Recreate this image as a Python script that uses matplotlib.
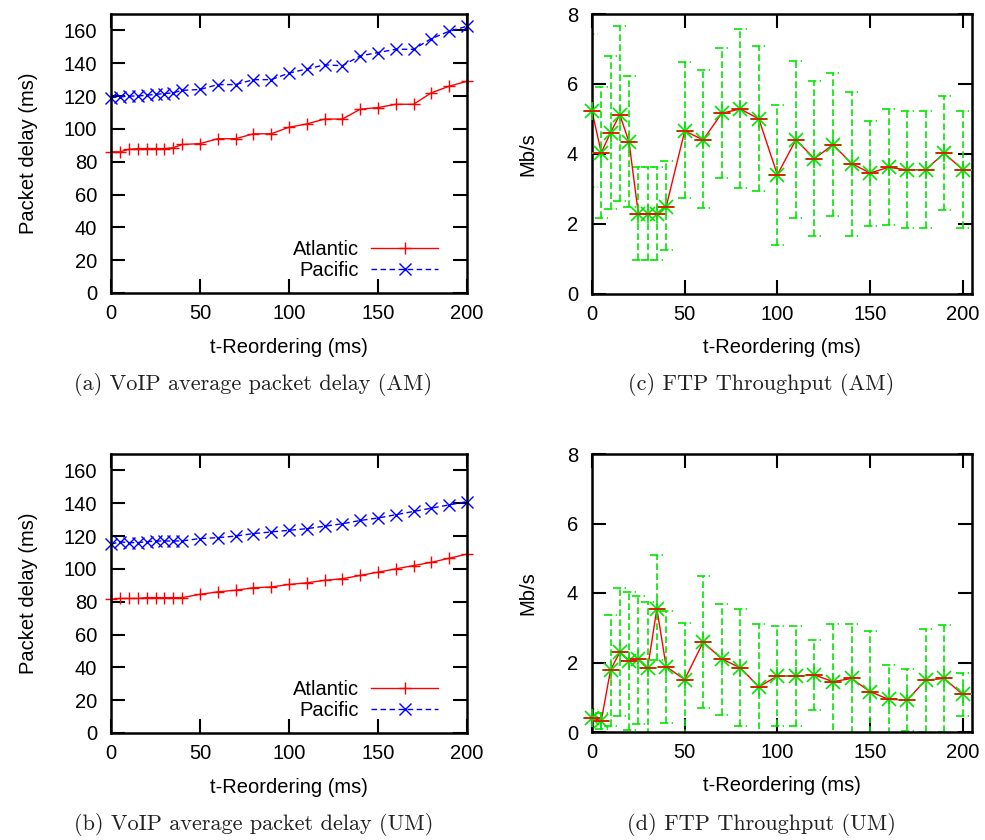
import numpy as np
import matplotlib
matplotlib.use('Agg')
import matplotlib.pyplot as plt

plt.rcParams['font.family'] = ['Liberation Sans', 'DejaVu Sans']
plt.rcParams['font.size'] = 14.5

# reordering timer values (ms)
t_reorder = np.array([0, 5, 10, 15, 20, 25, 30, 35, 40, 50, 60, 70, 80, 90,
                      100, 110, 120, 130, 140, 150, 160, 170, 180, 190, 200])

# VoIP average packet delay (ms), AM
atlantic_am = [86, 86, 87.5, 88, 88, 88, 88, 88.5, 90.5, 91, 94, 94, 97, 97,
               101, 103, 106, 106, 112, 113, 115, 115, 122, 126, 129]
pacific_am = [119, 119.5, 120, 120, 120.5, 121, 121.5, 122, 123.5, 124, 127, 127,
              130, 130, 134, 136.5, 139, 138.5, 144.5, 146.5, 148.5, 148.5, 155,
              159.5, 162.5]

# VoIP average packet delay (ms), UM
atlantic_um = [81.5, 82, 82, 82, 82.5, 82.5, 82.5, 82.5, 82.5, 84.5, 86, 87, 88.5,
               89, 90.5, 91.5, 93, 94, 96, 98, 100, 102, 104, 106.5, 109]
pacific_um = [115, 116.5, 116, 116, 116.5, 117, 117, 117, 117, 118.5, 119, 120,
              121.5, 122.5, 123.5, 124.5, 126, 127.5, 129.5, 131, 133, 135, 137,
              139, 141]

# FTP throughput (Mb/s), mean and error bar ends, AM
ftp_am = [5.22, 4.03, 4.60, 5.12, 4.33, 2.28, 2.28, 2.28, 2.48, 4.65, 4.40, 5.16,
          5.28, 5.00, 3.40, 4.40, 3.86, 4.26, 3.72, 3.45, 3.61, 3.54, 3.54, 4.02, 3.54]
ftp_am_hi = [7.43, 5.92, 6.79, 7.65, 6.23, 3.62, 3.62, 3.62, 3.79, 6.62, 6.40, 7.03,
             7.56, 7.09, 5.39, 6.66, 6.09, 6.30, 5.78, 4.94, 5.27, 5.23, 5.23, 5.66, 5.23]
ftp_am_lo = [3.05, 2.15, 2.42, 2.64, 2.49, 0.96, 0.96, 0.96, 1.25, 2.72, 2.44, 3.31,
             3.02, 2.92, 1.40, 2.16, 1.66, 2.21, 1.66, 1.92, 1.95, 1.87, 1.87, 2.38, 1.87]

# FTP throughput (Mb/s), UM
ftp_um = [0.40, 0.33, 1.78, 2.30, 2.04, 2.09, 1.83, 3.55, 1.88, 1.51, 2.59, 2.10,
          1.85, 1.30, 1.61, 1.61, 1.64, 1.45, 1.54, 1.16, 0.94, 0.92, 1.49, 1.54, 1.08]
ftp_um_hi = [0.65, 0.55, 3.36, 4.15, 4.02, 3.91, 3.74, 5.09, 3.48, 3.14, 4.49, 3.69,
             3.55, 3.10, 3.04, 3.04, 2.66, 3.12, 3.12, 2.91, 1.94, 1.80, 2.97, 3.07, 1.70]
ftp_um_lo = [0.15, 0.10, 0.16, 0.46, 0.05, 0.23, -0.08, 2.07, 0.25, -0.12, 0.68, 0.49,
             0.16, -0.50, 0.18, 0.18, 0.62, -0.22, -0.04, -0.59, -0.06, 0.04, 0.01, 0.01, 0.46]

captions = ['(a) VoIP average packet delay (AM)', '(b) VoIP average packet delay (UM)',
            '(c) FTP Throughput (AM)', '(d) FTP Throughput (UM)']

RED = '#ff0000'
BLUE = '#0000ff'
GREEN = '#00e600'

fig = plt.figure(figsize=(9.85, 8.4), dpi=100)
W, H = 985, 840


def add_axes(left, top, right, bottom):
    return fig.add_axes([left / W, 1 - bottom / H, (right - left) / W, (bottom - top) / H])


ax_a = add_axes(111, 14, 467, 293)
ax_b = add_axes(111, 454, 467, 733)
ax_c = add_axes(592, 14, 972, 293.5)
ax_d = add_axes(592, 454, 972, 732)


def style(ax):
    for s in ax.spines.values():
        s.set_linewidth(1.8)
    ax.tick_params(direction='in', length=10, width=1.5, top=True, right=True,
                   labelsize=14.5)
    ax.tick_params(axis='x', pad=8)
    ax.tick_params(axis='y', pad=10)
    ax.set_xlabel('t-Reordering (ms)')
    ax.xaxis.set_label_coords(0.5, -0.16)


def voip(ax, atl, pac):
    ax.plot(t_reorder, atl, color=RED, lw=1.0, marker='+', ms=9, mew=1.0,
            label='Atlantic', clip_on=False)
    ax.plot(t_reorder, pac, color=BLUE, lw=1.0, ls=(0, (4, 2.5)), marker='x', ms=8.5,
            mew=1.0, label='Pacific', clip_on=False)
    ax.set_xlim(0, 200)
    ax.set_ylim(0, 170)
    ax.set_xticks([0, 50, 100, 150, 200])
    ax.set_yticks(np.arange(0, 161, 20))
    ax.set_ylabel('Packet delay (ms)')
    ax.yaxis.set_label_coords(-0.205, 0.5)
    style(ax)
    ax.legend(loc='lower right', bbox_to_anchor=(0.918, 0.045), frameon=False,
              markerfirst=False, handlelength=3.3, handletextpad=0.6,
              labelspacing=0.1, borderpad=0, borderaxespad=0, fontsize=14.5)


def ftp(ax, mean, lo, hi):
    half = 3.5
    ax.vlines(t_reorder, lo, hi, colors=GREEN, lw=1.2, linestyles=(0, (4, 2)))
    ax.hlines(lo, t_reorder - half, t_reorder + half, colors=GREEN, lw=1.2,
              linestyles=(0, (5, 2)))
    ax.hlines(hi, t_reorder - half, t_reorder + half, colors=GREEN, lw=1.2,
              linestyles=(0, (5, 2)))
    ax.plot(t_reorder, mean, color=RED, lw=1.0, zorder=2.5)
    ax.plot(t_reorder, mean, ls='none', marker='x', ms=10, mew=1.2, color=GREEN,
            clip_on=False, zorder=3)
    ax.plot(t_reorder, mean, ls='none', marker='+', ms=13, mew=1.2, color=GREEN,
            clip_on=False, zorder=3)
    ax.plot(t_reorder, mean, ls='none', marker='_', ms=12, mew=1.2, color=RED,
            clip_on=False, zorder=3.5)
    ax.set_xlim(0, 205)
    ax.set_ylim(0, 8)
    ax.set_xticks([0, 50, 100, 150, 200])
    ax.set_yticks([0, 2, 4, 6, 8])
    ax.set_ylabel('Mb/s')
    ax.yaxis.set_label_coords(-0.145, 0.5)
    style(ax)


voip(ax_a, atlantic_am, pacific_am)
voip(ax_b, atlantic_um, pacific_um)
ftp(ax_c, ftp_am, ftp_am_lo, ftp_am_hi)
ftp(ax_d, ftp_um, ftp_um_lo, ftp_um_hi)

cap_pos = [(253.5, 385), (253.5, 825), (761, 385), (761, 825)]
for text, (cx, cy) in zip(captions, cap_pos):
    fig.text(cx / W, 1 - cy / H, text, ha='center', va='center', fontsize=16,
             family='cmr10', color='#222222')

fig.savefig('out.png', dpi=100)
